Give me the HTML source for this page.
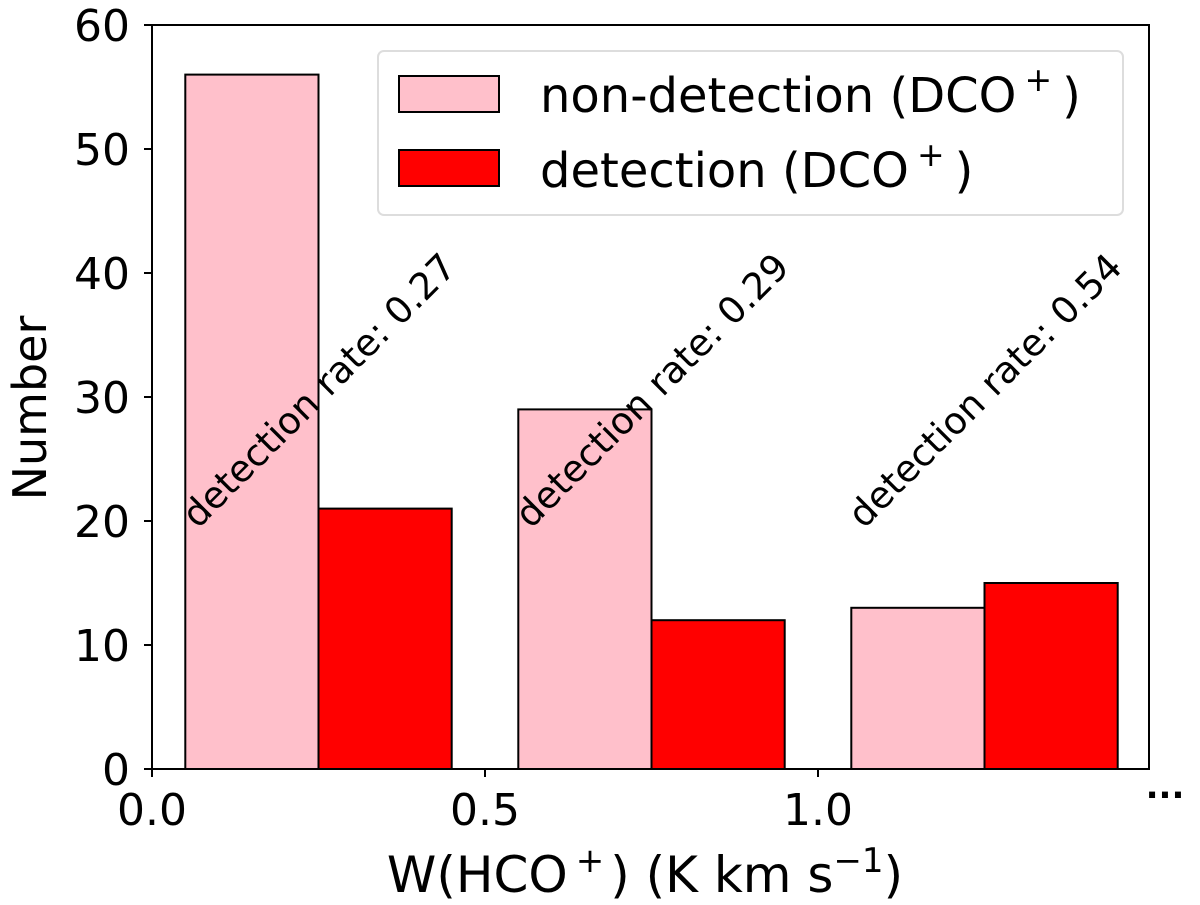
<!DOCTYPE html>
<html><head><meta charset="utf-8"><style>
body{margin:0;background:#fff}
svg{font-family:"DejaVu Sans","Liberation Sans",sans-serif;display:block}
</style></head><body>
<svg id="c" width="1200" height="905">
<g id="bars"></g>
<g id="axes"></g>
<text x="1165" y="798" font-size="34" font-weight="bold" text-anchor="middle">...</text>
<text x="645" y="892" font-size="50" text-anchor="middle">W(HCO<tspan font-size="34" dy="-20" dx="8">+</tspan><tspan dy="20" dx="6">) (K km s</tspan><tspan font-size="34" dy="-20">−1</tspan><tspan dy="20">)</tspan></text>
<text x="0" y="0" font-size="46" text-anchor="middle" transform="translate(46 408) rotate(-90)">Number</text>
<g>
<rect x="378" y="51" width="745" height="164" rx="6" fill="#fff" stroke="#ddd" stroke-width="2"/>
<rect x="399" y="76" width="100" height="36" fill="#ffc0cb" stroke="#000" stroke-width="2"/>
<text x="540" y="112" font-size="48">non-detection (DCO<tspan font-size="33" dy="-21" dx="8">+</tspan><tspan dy="21" dx="10">)</tspan></text>
<rect x="399" y="150" width="100" height="36" fill="#ff0000" stroke="#000" stroke-width="2"/>
<text x="540" y="187" font-size="48">detection (DCO<tspan font-size="33" dy="-21" dx="8">+</tspan><tspan dy="21" dx="10">)</tspan></text>
</g>
</svg>
<script>
const binStarts=[0.05,0.55,1.05];
const nonDet=[56,29,13];
const det=[21,12,15];
const rates=["0.27","0.29","0.54"];
const yTicks=[0,10,20,30,40,50,60];
const xTicks=[0.0,0.5,1.0];
const NS='http://www.w3.org/2000/svg';
const X0=152,XR=1149,YT=25,YB=769;
const xs=v=>X0+v*666, ys=v=>YB-(YB-YT)*v/60;
function mk(t,a,p){const e=document.createElementNS(NS,t);for(const k in a)e.setAttribute(k,a[k]);p.appendChild(e);return e;}
const bars=document.getElementById('bars');
binStarts.forEach((b,i)=>{
 const r1=mk('rect',{x:xs(b),y:ys(nonDet[i]),width:xs(b+0.2)-xs(b),height:YB-ys(nonDet[i]),fill:'#ffc0cb',stroke:'#000','stroke-width':2},bars);
 
 
 const r2=mk('rect',{x:xs(b+0.2),y:ys(det[i]),width:xs(b+0.4)-xs(b+0.2),height:YB-ys(det[i]),fill:'#ff0000',stroke:'#000','stroke-width':2},bars);
 
 
 const cx=xs(b+0.2)+2, cy=392;
 const t=mk('text',{x:cx,y:cy,'font-size':37,'text-anchor':'middle','dominant-baseline':'middle',transform:`rotate(-45 ${cx} ${cy})`},bars);
 t.textContent='detection rate: '+rates[i];
 
 
});
const ax=document.getElementById('axes');
const fr=mk('rect',{x:X0,y:YT,width:XR-X0,height:YB-YT,fill:'none',stroke:'#000','stroke-width':2},ax);


yTicks.forEach(v=>{
 mk('line',{x1:X0-8,x2:X0,y1:ys(v),y2:ys(v),stroke:'#000','stroke-width':2},ax);
 const t=mk('text',{x:X0-22,y:ys(v)+16,'font-size':44,'text-anchor':'end'},ax);
 t.textContent=v;
 
 
});
xTicks.forEach(v=>{
 mk('line',{x1:xs(v),x2:xs(v),y1:YB,y2:YB+8,stroke:'#000','stroke-width':2},ax);
 const t=mk('text',{x:xs(v),y:YB+56,'font-size':44,'text-anchor':'middle'},ax);
 t.textContent=v.toFixed(1);
 
 
});
</script>
</body></html>
